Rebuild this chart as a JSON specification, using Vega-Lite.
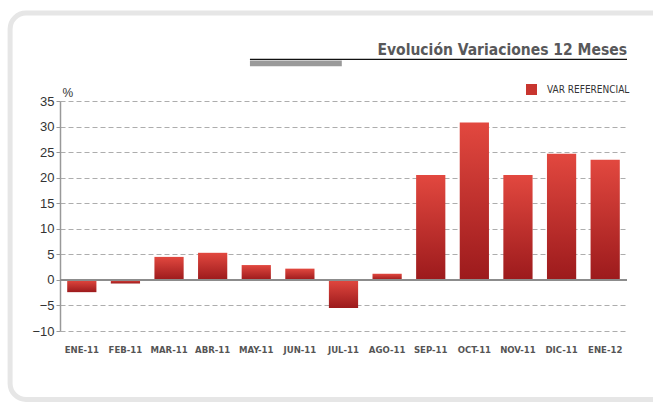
{
  "$schema": "https://vega.github.io/schema/vega-lite/v6.json",
  "width": 567,
  "height": 230,
  "autosize": {"type": "none"},
  "padding": {"left": 60, "top": 101, "right": 26, "bottom": 72},
  "background": "white",
  "title": {
    "text": "Evolución Variaciones 12 Meses",
    "anchor": "end",
    "frame": "group",
    "baseline": "alphabetic",
    "font": "DejaVu Sans Condensed, sans-serif",
    "fontSize": 15.5,
    "fontWeight": "bold",
    "color": "#58585a",
    "offset": -59.5
  },
  "config": {
    "view": {"stroke": null},
    "axis": {"labelFont": "Liberation Sans", "titleFont": "Liberation Sans"}
  },
  "data": {
    "values": [
      {"mes": "ENE-11", "valor": -2.4},
      {"mes": "FEB-11", "valor": -0.7},
      {"mes": "MAR-11", "valor": 4.5},
      {"mes": "ABR-11", "valor": 5.3},
      {"mes": "MAY-11", "valor": 2.9},
      {"mes": "JUN-11", "valor": 2.2},
      {"mes": "JUL-11", "valor": -5.5},
      {"mes": "AGO-11", "valor": 1.2},
      {"mes": "SEP-11", "valor": 20.5},
      {"mes": "OCT-11", "valor": 30.8},
      {"mes": "NOV-11", "valor": 20.5},
      {"mes": "DIC-11", "valor": 24.7},
      {"mes": "ENE-12", "valor": 23.5}
    ]
  },
  "resolve": {"scale": {"x": "independent", "y": "independent"}},
  "layer": [
    {
      "mark": {"type": "bar", "color": {"gradient": "linear", "x1": 0, "y1": 0, "x2": 0, "y2": 1, "stops": [{"offset": 0, "color": "#e2483f"}, {"offset": 1, "color": "#9c1a1c"}]}},
      "encoding": {
        "x": {
          "field": "mes", "type": "nominal", "sort": null,
          "scale": {"paddingInner": 0.33, "paddingOuter": 0.165},
          "axis": {
            "title": null, "labelAngle": 0, "domain": false, "ticks": false,
            "labelPadding": 13,
            "labelFont": "DejaVu Sans Condensed, sans-serif",
            "labelFontWeight": "bold", "labelFontSize": 9.5, "labelColor": "#555555"
          }
        },
        "y": {
          "field": "valor", "type": "quantitative",
          "scale": {"domain": [-10, 35], "nice": false, "zero": false},
          "axis": {
            "values": [-10, -5, 0, 5, 10, 15, 20, 25, 30, 35],
            "labelOverlap": false,
            "title": "%", "titleAngle": 0, "titleAlign": "left", "titleBaseline": "alphabetic",
            "titleX": 2, "titleY": -5, "titleFontSize": 12, "titleFontWeight": "normal", "titleColor": "#333333",
            "labelFontSize": 13, "labelColor": "#333333", "labelPadding": 2,
            "tickSize": 4, "tickColor": "#999999", "tickWidth": 1,
            "domainColor": "#999999", "domainWidth": 1.5,
            "grid": true, "gridColor": "#adadad", "gridDash": [5, 3], "gridWidth": 1.2
          }
        }
      }
    },
    {
      "data": {"values": [{}]},
      "mark": {"type": "rect", "clip": false, "fill": null, "fillOpacity": 0, "stroke": "#e6e6e6", "strokeWidth": 5, "cornerRadius": 16},
      "encoding": {
        "x": {"datum": -0.088, "type": "quantitative", "scale": {"domain": [0, 1], "nice": false, "zero": false}, "axis": null},
        "x2": {"datum": 1.09},
        "y": {"datum": 52.2, "type": "quantitative", "scale": {"domain": [-10, 35], "nice": false, "zero": false}, "axis": null},
        "y2": {"datum": -23.4}
      }
    },
    {
      "data": {"values": [{}]},
      "mark": {"type": "point", "shape": "square", "opacity": 0, "filled": true},
      "encoding": {
        "y": {"datum": 0, "type": "quantitative", "scale": {"domain": [-10, 35], "nice": false, "zero": false}, "axis": null},
        "color": {
          "datum": "VAR REFERENCIAL", "type": "nominal",
          "scale": {"range": ["#c8352f"]},
          "legend": {
            "title": null, "orient": "none", "legendX": 466, "legendY": -17,
            "symbolType": "square", "symbolSize": 121, "symbolStrokeWidth": 0, "symbolOpacity": 1,
            "padding": 0, "labelOffset": 10,
            "labelFont": "DejaVu Sans Condensed, sans-serif",
            "labelFontSize": 10, "labelColor": "#333333"
          }
        }
      }
    },
    {
      "data": {"values": [{}]},
      "mark": {"type": "rule", "stroke": "#8c8c8c", "strokeWidth": 2},
      "encoding": {"y": {"datum": 0, "type": "quantitative", "scale": {"domain": [-10, 35], "nice": false, "zero": false}, "axis": null}}
    },
    {
      "data": {"values": [{}]},
      "mark": {"type": "rule", "clip": false, "stroke": "#111111", "strokeWidth": 1.2},
      "encoding": {
        "x": {"datum": 0.335, "type": "quantitative", "scale": {"domain": [0, 1], "nice": false, "zero": false}, "axis": null},
        "x2": {"datum": 1.0},
        "y": {"datum": 43.14, "type": "quantitative", "scale": {"domain": [-10, 35], "nice": false, "zero": false}, "axis": null}
      }
    },
    {
      "data": {"values": [{}]},
      "mark": {"type": "rect", "clip": false, "fill": "#9a9a9a"},
      "encoding": {
        "x": {"datum": 0.335, "type": "quantitative", "scale": {"domain": [0, 1], "nice": false, "zero": false}, "axis": null},
        "x2": {"datum": 0.497},
        "y": {"datum": 42.9, "type": "quantitative", "scale": {"domain": [-10, 35], "nice": false, "zero": false}, "axis": null},
        "y2": {"datum": 41.8}
      }
    }
  ]
}
